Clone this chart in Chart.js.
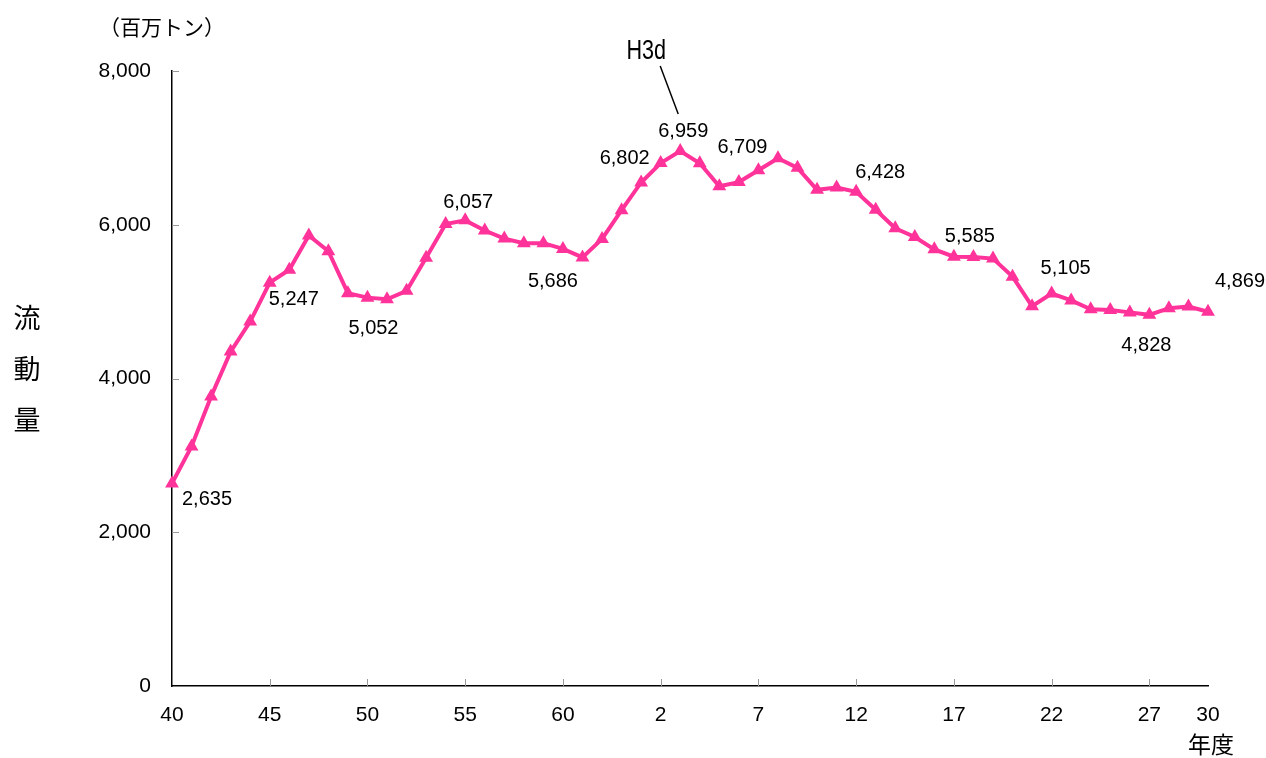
<!DOCTYPE html>
<html>
<head>
<meta charset="utf-8">
<script src="https://cdn.jsdelivr.net/npm/chart.js@4/dist/chart.umd.min.js"></script>
<style>
html, body { margin: 0; padding: 0; background: #fff; }
#wrap { width: 1266px; height: 758px; position: relative; }
</style>
</head>
<body>
<div id="wrap"><canvas id="flowChart"></canvas></div>
<script>
// 年度: 昭和40〜63, 平成1〜30
const years = ['40','41','42','43','44','45','46','47','48','49',
    '50','51','52','53','54','55','56','57','58','59',
    '60','61','62','63',
    '1','2','3','4','5','6','7','8','9','10',
    '11','12','13','14','15','16','17','18','19','20',
    '21','22','23','24','25','26','27','28','29','30'];

// 流動量 (百万トン)
const tonnage = [2635, 3115, 3765, 4350, 4740, 5247, 5415, 5860, 5655, 5110,
    5052, 5030, 5140, 5570, 6010, 6057, 5925, 5820, 5760, 5760,
    5686, 5575, 5815, 6190,
    6550, 6802, 6959, 6800, 6500, 6555, 6709, 6865, 6740, 6455,
    6485, 6428, 6195, 5955, 5840, 5680, 5585, 5580, 5560, 5325,
    4940, 5105, 5015, 4900, 4890, 4860, 4828, 4915, 4935, 4869];

const yTicks = [0, 2000, 4000, 6000, 8000];

// which points get a value label, and where the text sits relative to the point (px)
const labelOffsets = [
    [0, 35, 16], [5, 24, 17], [10, 6, 31], [15, 3, -18], [20, -10, 33],
    [25, -36, -5], [26, 3, -20], [30, -16, -23], [35, 24, -19],
    [40, 16, -20], [45, 14, -25], [50, -3, 31], [53, 32, -30]
];

const pink = '#FF3399';
const numFont = '"Liberation Sans", Arial, sans-serif';
const jpFont = '"Noto Sans CJK JP", sans-serif';

const decorations = {
    id: 'decorations',
    afterDraw(chart) {
        const ctx = chart.ctx;
        const x = chart.scales.x, y = chart.scales.y;
        const area = chart.chartArea;
        ctx.save();

        // inward tick marks
        ctx.strokeStyle = '#999';
        ctx.lineWidth = 1;
        ctx.beginPath();
        years.forEach((yr, i) => {
            if (i > 0 && i % 5 === 0) {
                const px = Math.round(x.getPixelForValue(i)) + 0.5;
                ctx.moveTo(px, area.bottom);
                ctx.lineTo(px, area.bottom - 7);
            }
        });
        yTicks.forEach(v => {
            if (v > 0) {
                const py = Math.round(y.getPixelForValue(v)) + 0.5;
                ctx.moveTo(area.left, py);
                ctx.lineTo(area.left + 7, py);
            }
        });
        ctx.stroke();

        // value labels
        ctx.fillStyle = '#000';
        ctx.font = '20px ' + numFont;
        ctx.textAlign = 'center';
        ctx.textBaseline = 'middle';
        labelOffsets.forEach(([i, dx, dy]) => {
            const px = x.getPixelForValue(i);
            const py = y.getPixelForValue(tonnage[i]);
            ctx.fillText(tonnage[i].toLocaleString('en-US'), px + dx, py + dy);
        });

        // H3d callout
        const hx = x.getPixelForValue(26);
        const hy = y.getPixelForValue(tonnage[26]);
        ctx.strokeStyle = '#000';
        ctx.lineWidth = 1.5;
        ctx.beginPath();
        ctx.moveTo(hx - 20, hy - 85);
        ctx.lineTo(hx - 2, hy - 37);
        ctx.stroke();
        ctx.save();
        ctx.translate(hx - 34, hy - 99);
        ctx.scale(0.8, 1);
        ctx.font = '27px ' + numFont;
        ctx.fillText('H3d', 0, 0);
        ctx.restore();

        // unit and axis titles
        ctx.font = '21px ' + jpFont;
        ctx.fillText('（百万トン）', 162, 27);
        ctx.font = '27px ' + jpFont;
        ['流', '動', '量'].forEach((ch, k) => ctx.fillText(ch, 27, 318 + k * 51));
        ctx.font = '23px ' + jpFont;
        ctx.fillText('年度', 1211, 744);

        ctx.restore();
    }
};

new Chart(document.getElementById('flowChart'), {
    type: 'line',
    data: {
        labels: years,
        datasets: [{
            data: tonnage,
            borderColor: pink,
            backgroundColor: pink,
            borderWidth: 4,
            pointStyle: 'triangle',
            pointRadius: 8,
            pointBackgroundColor: pink,
            pointBorderColor: pink,
            pointBorderWidth: 0,
            tension: 0
        }]
    },
    options: {
        responsive: true,
        maintainAspectRatio: false,
        animation: false,
        layout: { padding: { left: 0, top: 71, right: 58, bottom: 0 } },
        plugins: {
            legend: { display: false },
            tooltip: { enabled: false }
        },
        scales: {
            x: {
                offset: false,
                grid: { display: false, drawTicks: false },
                border: { display: true, color: '#000', width: 1.5 },
                ticks: {
                    autoSkip: false,
                    maxRotation: 0,
                    padding: 17,
                    color: '#000',
                    font: { size: 21, family: numFont },
                    callback: (v, i) => (i % 5 === 0 || i === years.length - 1) ? years[i] : ''
                },
                afterFit: (s) => { s.height = 72; }
            },
            y: {
                min: 0,
                max: 8000,
                grid: { display: false, drawTicks: false },
                border: { display: true, color: '#000', width: 1.5 },
                afterBuildTicks: (s) => { s.ticks = yTicks.map(v => ({ value: v })); },
                ticks: {
                    padding: 21,
                    color: '#000',
                    font: { size: 21, family: numFont },
                    callback: (v) => v.toLocaleString('en-US')
                },
                afterFit: (s) => { s.width = 172; }
            }
        }
    },
    plugins: [decorations]
});
</script>
</body>
</html>
